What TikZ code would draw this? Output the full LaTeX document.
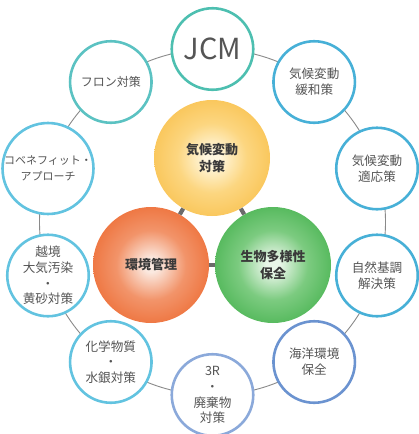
\documentclass[tikz,border=0pt]{standalone}
\usepackage{fontspec}
\setmainfont{Noto Sans CJK JP}
\definecolor{txt}{HTML}{555555}
\definecolor{itxt}{HTML}{3A3A3A}
\definecolor{ringc}{HTML}{8A8A8A}
\definecolor{connc}{HTML}{6B6B6B}
\definecolor{cJCM}{HTML}{4DBFB0}
\definecolor{cFron}{HTML}{5BC2C2}
\definecolor{cBlue}{HTML}{47B0D7}
\definecolor{cLight}{HTML}{62C3E0}
\definecolor{cSea}{HTML}{6B93D0}
\definecolor{cThreeR}{HTML}{8BA9DA}
\definecolor{yA}{HTML}{FFF7DE}
\definecolor{yB}{HTML}{FCD680}
\definecolor{yC}{HTML}{F8BC42}
\definecolor{oA}{HTML}{FBE9E0}
\definecolor{oB}{HTML}{F2946A}
\definecolor{oC}{HTML}{EC6226}
\definecolor{gA}{HTML}{E8F6E8}
\definecolor{gB}{HTML}{7CCB80}
\definecolor{gC}{HTML}{3BAD45}
\pgfdeclareradialshading{ballY}{\pgfpoint{0bp}{0bp}}{color(0bp)=(yA); color(3bp)=(yA); color(15bp)=(yB); color(33bp)=(yC); color(50bp)=(yC)}
\pgfdeclareradialshading{ballO}{\pgfpoint{0bp}{0bp}}{color(0bp)=(oA); color(3bp)=(oA); color(15bp)=(oB); color(33bp)=(oC); color(50bp)=(oC)}
\pgfdeclareradialshading{ballG}{\pgfpoint{0bp}{0bp}}{color(0bp)=(gA); color(3bp)=(gA); color(15bp)=(gB); color(33bp)=(gC); color(50bp)=(gC)}
\begin{document}
\begin{tikzpicture}[x=1pt,y=-1pt,
  outer/.style={circle, draw=#1, line width=2.6pt, fill=white, minimum size=81.5pt,
    inner sep=0pt, align=center, text=txt, font=\fontsize{12.6}{15.8}\selectfont},
  ball/.style={circle, shading=#1, minimum size=116pt, inner sep=0pt, align=center,
    text=itxt, font=\bfseries\fontsize{13}{16.5}\selectfont},
  ring/.style={draw=ringc, line width=0.9pt},
  conn/.style={draw=connc, line width=4.2pt}]
\useasboundingbox (0,0) rectangle (418,434);
\coordinate (rc) at (212.5,222);
\draw[ring] (rc) circle[radius=173pt];
% outer ring of topics
\node[outer=cJCM, font=\fontsize{29}{30}\selectfont] (jcm) at (212.5,49) {JCM};
\node[outer=cBlue] (mitig) at (314.2,82) {気候変動\\緩和策};
\node[outer=cBlue] (adapt) at (377,168.5) {気候変動\\適応策};
\node[outer=cBlue] (nbs) at (377,275.5) {自然基調\\解決策};
\node[outer=cSea] (sea) at (314.2,362) {海洋環境\\保全};
\node[outer=cThreeR] (waste) at (212.5,395) {3R\\・\\廃棄物\\対策};
\node[outer=cLight] (chem) at (110.8,362) {化学物質\\・\\水銀対策};
\node[outer=cLight] (air) at (48,275.5) {越境\\大気汚染\\・\\黄砂対策};
\node[outer=cLight, font=\fontsize{11}{15.5}\selectfont] (cobe) at (48,168.5) {コベネフィット・\\アプローチ};
\node[outer=cFron, font=\fontsize{12}{15.5}\selectfont] (fron) at (110.8,82) {フロン対策};
% central balls
\node[ball=ballY] (clim) at (212,158) {気候変動\\対策};
\node[ball=ballO] (env) at (151,265) {環境管理};
\node[ball=ballG] (bio) at (273,265) {生物多様性\\保全};
\draw[conn] (clim) -- (env);
\draw[conn] (clim) -- (bio);
\draw[conn] (env) -- (bio);
\end{tikzpicture}
\end{document}
